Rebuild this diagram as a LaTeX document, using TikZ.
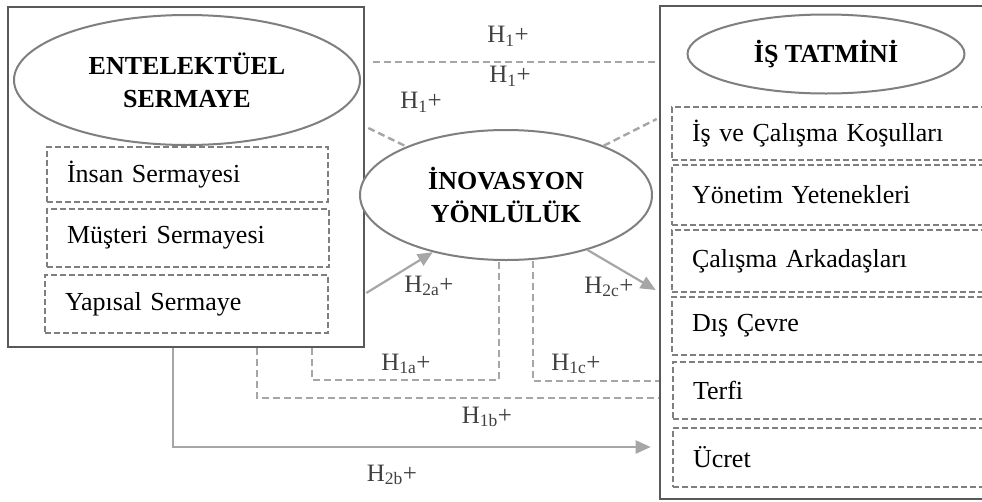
\documentclass[tikz,border=0pt]{standalone}
\usepackage{fontspec}
\setmainfont{Liberation Serif}
\usetikzlibrary{shapes.geometric,arrows.meta}

\definecolor{framegray}{HTML}{595959}
\definecolor{ellgray}{HTML}{7F7F7F}
\definecolor{dimgray}{HTML}{7F7F7F}
\definecolor{linkgray}{HTML}{A6A6A6}
\definecolor{labgray}{HTML}{404040}

\begin{document}
\begin{tikzpicture}[x=1pt,y=-1pt,
  frame/.style={draw=framegray, line width=2.6pt, inner sep=0pt},
  concept/.style={ellipse, draw=ellgray, line width=2pt, fill=white, inner sep=0pt,
    font=\fontsize{26}{33}\selectfont\bfseries, align=center},
  dimbox/.style={draw=dimgray, line width=2pt, dash pattern=on 6pt off 3pt,
    inner xsep=20pt, inner ysep=0pt, font=\fontsize{26}{30}\selectfont, align=left},
  hyp/.style={text=labgray, font=\fontsize{25}{28}\selectfont, inner sep=0pt},
  link/.style={draw=linkgray, line width=2.4pt, dash pattern=on 7pt off 4pt},
  effect/.style={draw=linkgray, line width=2.2pt, -{Triangle[length=15pt,width=13pt]}}
]
\clip (0,0) rectangle (982,501);
\fill[white] (0,0) rectangle (982,501);

% outer frames
\node[frame, minimum width=356pt, minimum height=340pt] (esbox) at (186,177) {};
\node[frame, minimum width=340pt, minimum height=493pt] (tatbox) at (830,252.5) {};

% intellectual capital dimensions
\node[dimbox, text width=241pt, minimum height=55pt] (insan) at (187.5,174.5) {İnsan Sermayesi};
\node[dimbox, text width=242pt, minimum height=58pt] (musteri) at (188,238) {Müşteri Sermayesi};
\node[dimbox, text width=243pt, minimum height=58pt] (yapisal) at (186.5,304) {Yapısal Sermaye};

% job satisfaction dimensions
\node[dimbox, text width=280pt, minimum height=53pt] (r1) at (832,133.5) {İş ve Çalışma Koşulları};
\node[dimbox, text width=280pt, minimum height=60pt] (r2) at (832,195) {Yönetim Yetenekleri};
\node[dimbox, text width=280pt, minimum height=62pt] (r3) at (832,261) {Çalışma Arkadaşları};
\node[dimbox, text width=280pt, minimum height=58pt] (r4) at (832,326) {Dış Çevre};
\node[dimbox, text width=280pt, minimum height=57pt] (r5) at (833,390.5) {Terfi};
\node[dimbox, text width=280pt, minimum height=59pt] (r6) at (833,457.5) {Ücret};

% constructs
\node[concept, minimum width=346pt, minimum height=130pt] (esell) at (187,80) {ENTELEKTÜEL\\SERMAYE};
\node[concept, minimum width=277pt, minimum height=79pt] (tatell) at (826,54) {İŞ TATMİNİ};
\node[concept, minimum width=292pt, minimum height=130pt] (inov) at (506,195) {İNOVASYON\\YÖNLÜLÜK};

% helper coordinates for the routed connectors
\coordinate (h1y) at (0,62);
\coordinate (dly) at (0,128);
\coordinate (dry) at (0,119);
\coordinate (e2a) at (0,293);
\coordinate (e2c) at (0,290);
\coordinate (a1) at (312,380);
\coordinate (a2) at (499,380);
\coordinate (c1) at (533,381);
\coordinate (b1) at (257,398);
\coordinate (p1) at (173,447);

% direct H1 links
\draw[link] ([xshift=8pt]esbox.east |- h1y) -- ([xshift=-1pt]tatbox.west |- h1y);
\draw[link] ([xshift=3pt]esbox.east |- dly) -- (inov);
\draw[link] (inov) -- ([xshift=-2pt]tatbox.west |- dry);

% routed H1 links below
\draw[link] (esbox.south -| a1) -- (a1) -- (a2) -- (inov.south -| a2);
\draw[link] (inov.south -| c1) -- (c1) -- (tatbox.west |- c1);
\draw[link] (esbox.south -| b1) -- (b1) -- (tatbox.west |- b1);

% H2 effects
\draw[effect] ([xshift=1pt]esbox.east |- e2a) -- (inov.218);
\draw[effect] (inov.326) -- ([xshift=-3pt]tatbox.west |- e2c);
\draw[effect] (esbox.south -| p1) -- (p1) -- ([xshift=-8pt]tatbox.west |- p1);

% hypothesis labels
\node[hyp] (l1) at (508,36) {H\textsubscript{1}+};
\node[hyp] (l2) at (510,76) {H\textsubscript{1}+};
\node[hyp] (l3) at (421,102) {H\textsubscript{1}+};
\node[hyp] (l2a) at (429,286) {H\textsubscript{2a}+};
\node[hyp] (l2c) at (609,287) {H\textsubscript{2c}+};
\node[hyp] (l1a) at (406,364) {H\textsubscript{1a}+};
\node[hyp] (l1c) at (576,364) {H\textsubscript{1c}+};
\node[hyp] (l1b) at (487,417) {H\textsubscript{1b}+};
\node[hyp] (l2b) at (392,475) {H\textsubscript{2b}+};
\end{tikzpicture}
\end{document}
